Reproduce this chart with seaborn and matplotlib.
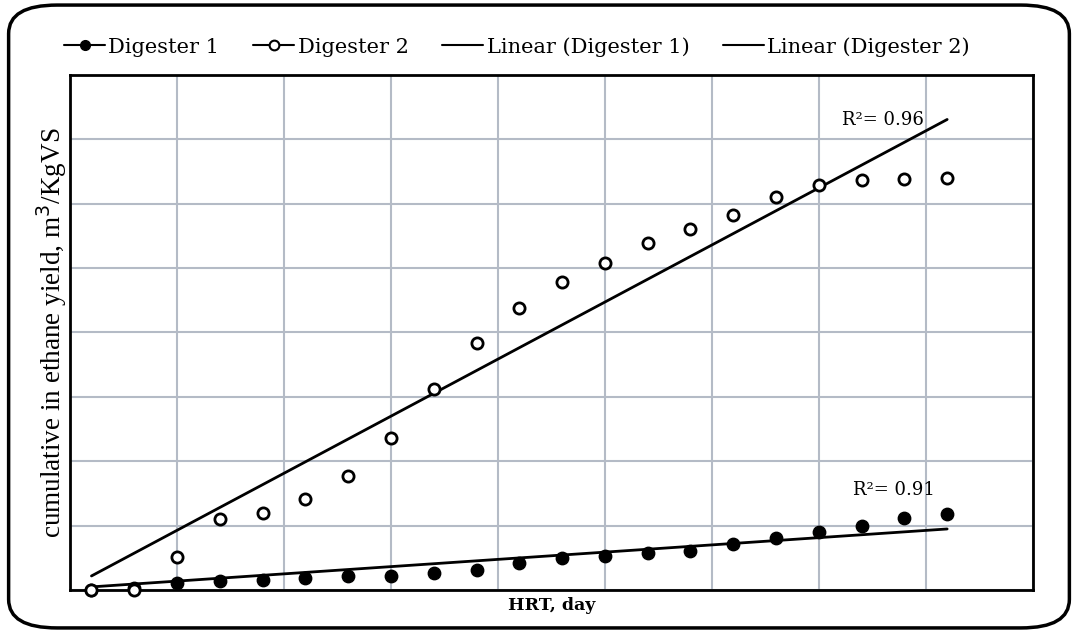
import numpy as np
import pandas as pd
import seaborn as sns
from matplotlib import pyplot as plt
from matplotlib import lines
from matplotlib.patches import FancyBboxPatch

# HRT (days) and cumulative yield
hrt = [1, 3, 5, 7, 9, 11, 13, 15, 17, 19, 21, 23, 25, 27, 29, 31, 33, 35, 37, 39, 41]
digester_1 = [0.000, 0.003, 0.011, 0.014, 0.016, 0.019, 0.022, 0.022, 0.026, 0.031, 0.042,
              0.050, 0.053, 0.057, 0.061, 0.071, 0.081, 0.090, 0.099, 0.112, 0.118]
digester_2 = [0.000, 0.000, 0.051, 0.110, 0.120, 0.141, 0.177, 0.236, 0.312, 0.384, 0.438,
              0.478, 0.508, 0.539, 0.561, 0.582, 0.610, 0.629, 0.637, 0.638, 0.640]
# Linear trendlines as drawn in the picture (slope per day, intercept)
trend_slope = [0.00225, 0.01773]
trend_intercept = [0.0025, 0.0040]
r2_labels = ['R\u00b2= 0.91', 'R\u00b2= 0.96']

df = pd.DataFrame({'hrt': hrt, 'd1': digester_1, 'd2': digester_2})
x_fit = np.array([hrt[0], hrt[-1]])
trend = pd.DataFrame({
    'hrt': x_fit,
    'lin1': trend_intercept[0] + trend_slope[0] * x_fit,
    'lin2': trend_intercept[1] + trend_slope[1] * x_fit,
})

sns.set_style('white')
plt.rcParams['text.color'] = 'black'
plt.rcParams['axes.labelcolor'] = 'black'
fig = plt.figure(figsize=(10.78, 6.33), dpi=100)
ax = fig.add_axes([0.065, 0.068, 0.893, 0.8135])

# Trendlines
sns.lineplot(trend, x='hrt', y='lin1', ax=ax, color='black', linewidth=2)
sns.lineplot(trend, x='hrt', y='lin2', ax=ax, color='black', linewidth=2)
# Points
sns.scatterplot(df, x='hrt', y='d1', ax=ax, color='black', s=80,
                edgecolor='black', linewidth=1, zorder=3, clip_on=False)
sns.scatterplot(df, x='hrt', y='d2', ax=ax, color='white', s=65,
                edgecolor='black', linewidth=2, zorder=4, clip_on=False)

ax.set_xlim(0, 45)
ax.set_ylim(0, 0.8)
ax.set_xticks(np.arange(0, 46, 5))
ax.set_yticks(np.arange(0, 0.81, 0.1))
ax.tick_params(length=0, labelbottom=False, labelleft=False)
ax.grid(True, color='#b4bbc6', linewidth=1.5)
ax.set_axisbelow(True)
for sp in ax.spines.values():
    sp.set_color('black')
    sp.set_linewidth(2)

ax.set_xlabel('HRT, day', family='DejaVu Serif', fontsize=12.5, fontweight='bold', labelpad=5)
ax.set_ylabel('cumulative in ethane yield, m$^3$/KgVS', family='Liberation Serif',
              fontsize=19.5, labelpad=1)

ax.text(36.6, 0.155, r2_labels[0], family='DejaVu Serif', fontsize=13, va='center')
ax.text(36.1, 0.730, r2_labels[1], family='DejaVu Serif', fontsize=13, va='center')

handles = [
    lines.Line2D([0], [0], color='black', linewidth=1.5, marker='o', markersize=7,
                 markerfacecolor='black'),
    lines.Line2D([0], [0], color='black', linewidth=1.5, marker='o', markersize=7,
                 markerfacecolor='white', markeredgewidth=1.5),
    lines.Line2D([0], [0], color='black', linewidth=1.5),
    lines.Line2D([0], [0], color='black', linewidth=1.5),
]
fig.legend(handles, ['Digester 1', 'Digester 2', 'Linear (Digester 1)', 'Linear (Digester 2)'],
           loc='center left', bbox_to_anchor=(0.0417, 0.926), ncol=4, frameon=False,
           prop={'family': 'DejaVu Serif', 'size': 15}, handlelength=2.0,
           handletextpad=0.15, columnspacing=1.6)

# Rounded frame around the whole figure
fig.patches.append(FancyBboxPatch((0.008, 0.008), 0.984, 0.984,
                                  boxstyle='round,pad=0,rounding_size=0.045',
                                  transform=fig.transFigure, fill=False,
                                  edgecolor='black', linewidth=2.5))

fig.savefig('out.png', dpi=100)
